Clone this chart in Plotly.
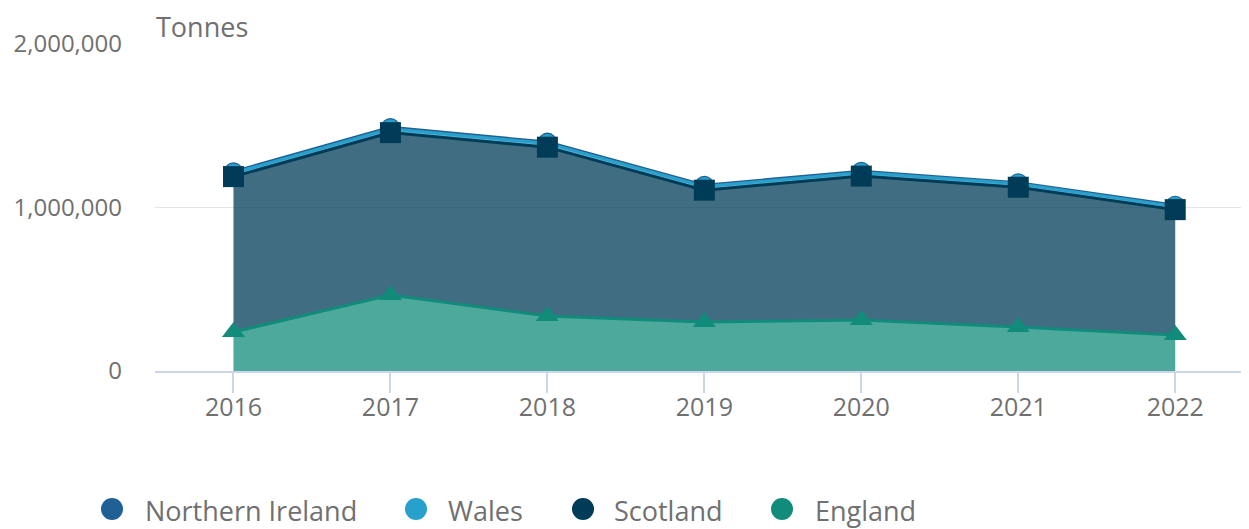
import numpy as np
import plotly.graph_objects as go

years = ["2016", "2017", "2018", "2019", "2020", "2021", "2022"]
england = [239000, 465000, 336000, 300000, 312000, 269000, 220000]
scotland = [950000, 993000, 1033000, 806000, 880000, 855000, 767000]
wales = [22000, 24000, 23000, 22000, 22000, 21000, 20000]
northern_ireland = [8000, 8000, 8000, 8000, 8000, 7000, 7000]

names = ["England", "Scotland", "Wales", "Northern Ireland"]
series = [england, scotland, wales, northern_ireland]
colors = ["#118c7b", "#003c57", "#27a0cc", "#206095"]
symbols = ["triangle-up", "square", "circle", "circle"]
sizes = [20, 21, 19, 19]

def rgba(hexc, a):
    h = hexc.lstrip("#")
    r, g, b = int(h[0:2], 16), int(h[2:4], 16), int(h[4:6], 16)
    return f"rgba({r},{g},{b},{a})"

# page has an 8px body margin; figure sized to fit the 1249x529 window
OFF = 8
W, H = 1249 - OFF, 529 - OFF
L, R, T, B = 155 - OFF, 0, 44 - OFF, 529 - 371
PW, PH = W - L - R, H - T - B

def px(x):  # page pixel -> paper fraction
    return (x - OFF - L) / PW

def py(y):
    return (H - B - (y - OFF)) / PH

fig = go.Figure()

# stacked fills
for n, s, c in zip(names, series, colors):
    fig.add_trace(go.Scatter(
        x=years, y=s, stackgroup="one", mode="lines",
        line=dict(width=0, color=c), fillcolor=rgba(c, 0.75),
        showlegend=False, hoverinfo="skip"))

# overlay lines, drawn top series first so lower series lie on top
cum = np.cumsum(np.array(series, dtype=float), axis=0)
for i in [3, 2, 1, 0]:
    fig.add_trace(go.Scatter(
        x=years, y=cum[i], mode="lines+markers", name=names[i],
        line=dict(width=3, color=colors[i]),
        marker=dict(symbol=symbols[i], size=sizes[i], color=colors[i]),
        showlegend=False, hoverinfo="skip"))

grey = "#707070"

# custom legend (circle swatches + real text)
legend_order = [3, 2, 1, 0]
sym_x = [112, 416, 583, 782]
txt_x = [143, 446, 612, 813]
shapes = []
annotations = []
for k, i in enumerate(legend_order):
    shapes.append(dict(type="circle", xref="paper", yref="paper",
                       xsizemode="pixel", ysizemode="pixel",
                       xanchor=px(sym_x[k]), yanchor=py(509),
                       x0=-11, x1=11, y0=-11, y1=11,
                       fillcolor=colors[i], line=dict(width=0)))
    annotations.append(dict(text=names[i], xref="paper", yref="paper",
                            x=px(txt_x[k]), y=py(510), xanchor="left",
                            yanchor="middle", showarrow=False,
                            font=dict(size=27, color=grey)))

annotations.append(dict(text="Tonnes", xref="paper", yref="paper", x=px(154),
                        y=py(26), xanchor="left", yanchor="middle",
                        showarrow=False, font=dict(size=27, color=grey)))

fig.update_layout(
    width=W, height=H,
    margin=dict(l=L, r=R, t=T, b=B, autoexpand=False),
    paper_bgcolor="white", plot_bgcolor="white",
    font=dict(family="Open Sans", color=grey),
    showlegend=False,
    xaxis=dict(type="category", range=[-0.5, 6.47], automargin=False,
               showline=True, linecolor="#ccd6eb", linewidth=2,
               ticks="outside", ticklen=20, tickcolor="#ccd6eb", tickwidth=2,
               ticklabelstandoff=-7,
               showgrid=False, tickfont=dict(size=25, color=grey)),
    yaxis=dict(range=[0, 2000000], tickvals=[0, 1000000, 2000000],
               ticktext=["0", "1,000,000", "2,000,000"], automargin=False,
               showgrid=True, gridcolor="#e6e6e6", gridwidth=1,
               zeroline=False, showline=False,
               ticklabelstandoff=32,
               tickfont=dict(size=24, color=grey)),
    shapes=shapes,
    annotations=annotations,
    hovermode=False,
)

fig.write_html("out.html")
